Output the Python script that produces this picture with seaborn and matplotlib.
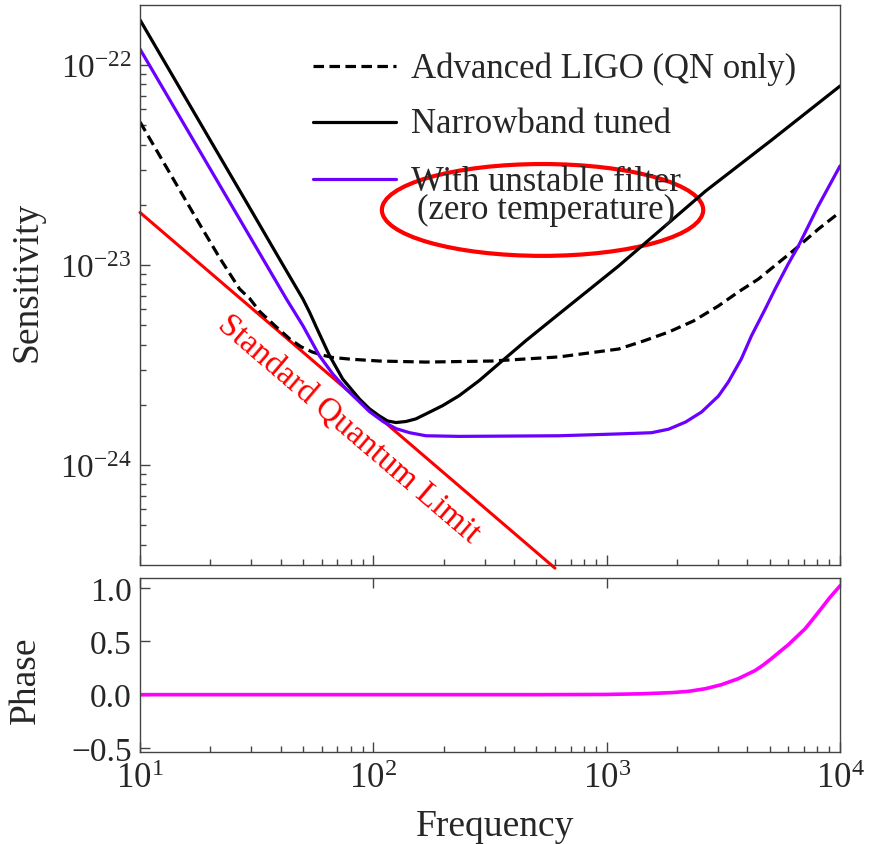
import matplotlib
matplotlib.use('Agg')
import matplotlib.pyplot as plt
import seaborn as sns
from matplotlib.patches import Ellipse
from matplotlib.ticker import FuncFormatter, NullFormatter, LogLocator

# ---- data ----
freq_aligo = [10, 18, 22, 26.7, 29.5, 32.6, 38, 43.8, 49, 54.8, 60, 66.8, 80, 106, 168, 323, 624,
              1125, 1439, 1842, 2355, 3010, 3665, 4470, 6420, 8060, 10000]
sens_aligo = [5.19e-23, 1.6e-23, 1.08e-23, 7.59e-24, 6.8e-24, 5.85e-24, 4.95e-24, 4.27e-24,
              3.9e-24, 3.67e-24, 3.55e-24, 3.45e-24, 3.38e-24, 3.31e-24, 3.27e-24, 3.31e-24,
              3.47e-24, 3.80e-24, 4.17e-24, 4.62e-24, 5.25e-24, 6.24e-24, 7.33e-24, 8.51e-24,
              1.20e-23, 1.51e-23, 1.84e-23]

freq_narrow = [10, 30, 40, 49.9, 53.3, 56.9, 64.9, 73.9, 87.1, 96.2, 106, 115, 125, 138, 152,
               168, 198, 233, 284, 357, 450, 624, 1125, 2650, 5070, 10000]
sens_narrow = [1.68e-22, 1.87e-23, 1.05e-23, 6.76e-24, 5.8e-24, 4.9e-24, 3.52e-24, 2.69e-24,
               2.14e-24, 1.91e-24, 1.76e-24, 1.66e-24, 1.63e-24, 1.65e-24, 1.70e-24, 1.80e-24,
               1.98e-24, 2.22e-24, 2.64e-24, 3.32e-24, 4.18e-24, 5.69e-24, 9.89e-24, 2.34e-23,
               4.2e-23, 7.85e-23]

freq_filter = [10, 42.4, 49.9, 58.7, 67.0, 76.4, 87.1, 96.2, 110, 125, 143, 168, 233, 624,
               1125, 1556, 1842, 2178, 2549, 3010, 3320, 3774, 4170, 4780, 5270, 5990, 6620,
               8060, 10000]
sens_filter = [1.20e-22, 6.76e-24, 4.97e-24, 3.52e-24, 2.85e-24, 2.40e-24, 2.07e-24, 1.85e-24,
               1.65e-24, 1.52e-24, 1.45e-24, 1.40e-24, 1.39e-24, 1.40e-24, 1.43e-24, 1.45e-24,
               1.51e-24, 1.64e-24, 1.84e-24, 2.21e-24, 2.60e-24, 3.39e-24, 4.42e-24, 6.03e-24,
               7.59e-24, 1.01e-23, 1.24e-23, 1.97e-23, 3.13e-23]

freq_sql = [10, 600]
sens_sql = [1.83e-23, 3.05e-25]

freq_phase = [10, 100, 512, 991, 1400, 1897, 2240, 2650, 3097, 3665, 4335, 4700, 5070, 5500,
              5995, 6500, 7080, 7600, 8290, 9000, 10000]
phase = [0, 0, 0, 0.002, 0.008, 0.019, 0.031, 0.056, 0.093, 0.150, 0.227, 0.28, 0.336, 0.40,
         0.467, 0.54, 0.617, 0.70, 0.804, 0.905, 1.02]

legend_labels = ['Advanced LIGO (QN only)', 'Narrowband tuned', 'With unstable filter\n(zero temperature)']

PURPLE = '#6A00FF'
RED = '#FF0000'
MAGENTA = '#FF00FF'
SPINE = '#444444'

sns.set_style('ticks')
plt.rcParams['font.family'] = ['Liberation Serif', 'DejaVu Serif']
plt.rcParams['mathtext.fontset'] = 'custom'
plt.rcParams['mathtext.rm'] = 'Liberation Serif'
plt.rcParams['mathtext.it'] = 'Liberation Serif:italic'
plt.rcParams['mathtext.bf'] = 'Liberation Serif:bold'
plt.rcParams['axes.edgecolor'] = SPINE

fig = plt.figure(figsize=(8.79, 8.45), dpi=100)
ax1 = fig.add_axes([0.1593, 0.3302, 0.7964, 0.6627])
ax2 = fig.add_axes([0.1593, 0.1089, 0.7964, 0.2059], sharex=ax1)

# top panel: sensitivity curves
sns.lineplot(x=freq_sql, y=sens_sql, ax=ax1, color=RED, lw=2.2, clip_on=False)
sns.lineplot(x=freq_aligo, y=sens_aligo, ax=ax1, color='black', lw=2.3, linestyle=(0, (3.3, 1.7)))
sns.lineplot(x=freq_narrow, y=sens_narrow, ax=ax1, color='black', lw=2.3)
sns.lineplot(x=freq_filter, y=sens_filter, ax=ax1, color=PURPLE, lw=2.3)

ax1.set_xscale('log')
ax1.set_yscale('log')
ax1.set_xlim(10, 1e4)
ax1.set_ylim(10 ** -24.5, 10 ** -21.7)
ax1.set_ylabel('Sensitivity', fontsize=27)
ax1.yaxis.set_label_coords(-0.136, 0.507)
ax1.set_xlabel('')

# manual legend
legend_y = [0.891, 0.791, 0.689]
legend_styles = [dict(color='black', linestyle=(0, (3.3, 1.7))), dict(color='black'), dict(color=PURPLE)]
for ly, lab, st in zip(legend_y, legend_labels, legend_styles):
    ax1.plot([0.247, 0.366], [ly, ly], transform=ax1.transAxes, lw=2.3, **st)
    ax1.text(0.387, ly + 0.026, lab, transform=ax1.transAxes, fontsize=25, ha='left', va='top',
             multialignment='center', linespacing=0.8)

ax1.add_patch(Ellipse((0.575, 0.634), 0.459, 0.164, transform=ax1.transAxes,
                      fill=False, ec=RED, lw=3))

ax1.text(78, 1.53e-24, 'Standard Quantum Limit', color=RED, fontsize=24,
         rotation=-40.5, rotation_mode='anchor', ha='center', va='center')

# bottom panel: phase
sns.lineplot(x=freq_phase, y=phase, ax=ax2, color=MAGENTA, lw=2.6)
ax2.set_xscale('log')
ax2.set_xlim(10, 1e4)
ax2.set_ylim(-0.537, 1.093)
ax2.set_yticks([-0.5, 0.0, 0.5, 1.0])
ax2.yaxis.set_major_formatter(FuncFormatter(lambda v, p: f'{v:.1f}'.replace('-', '\u2212')))
ax2.set_ylabel('Phase', fontsize=27)
ax2.yaxis.set_label_coords(-0.139, 0.42)
ax2.set_xlabel('Frequency', fontsize=27)
ax2.xaxis.set_label_coords(0.507, -0.325)

for ax in (ax1, ax2):
    ax.xaxis.set_major_locator(LogLocator(base=10, numticks=10))
    ax.xaxis.set_minor_locator(LogLocator(base=10, subs=range(2, 10), numticks=50))
    ax.xaxis.set_minor_formatter(NullFormatter())
    ax.tick_params(which='both', direction='in', color=SPINE, right=False, width=1)
    ax.tick_params(which='major', length=7)
    ax.tick_params(which='minor', length=4)
    for sp in ax.spines.values():
        sp.set_linewidth(1.0)
        sp.set_color(SPINE)

ax1.yaxis.set_minor_formatter(NullFormatter())
ax1.tick_params(top=False, labelbottom=False)
ax1.tick_params(axis='y', labelsize=24, pad=6)
ax2.tick_params(top=True, labelbottom=True)
ax2.tick_params(axis='y', labelsize=24, pad=6)
ax2.tick_params(axis='x', labelsize=25, pad=7)

fig.savefig('out.png', dpi=100)
